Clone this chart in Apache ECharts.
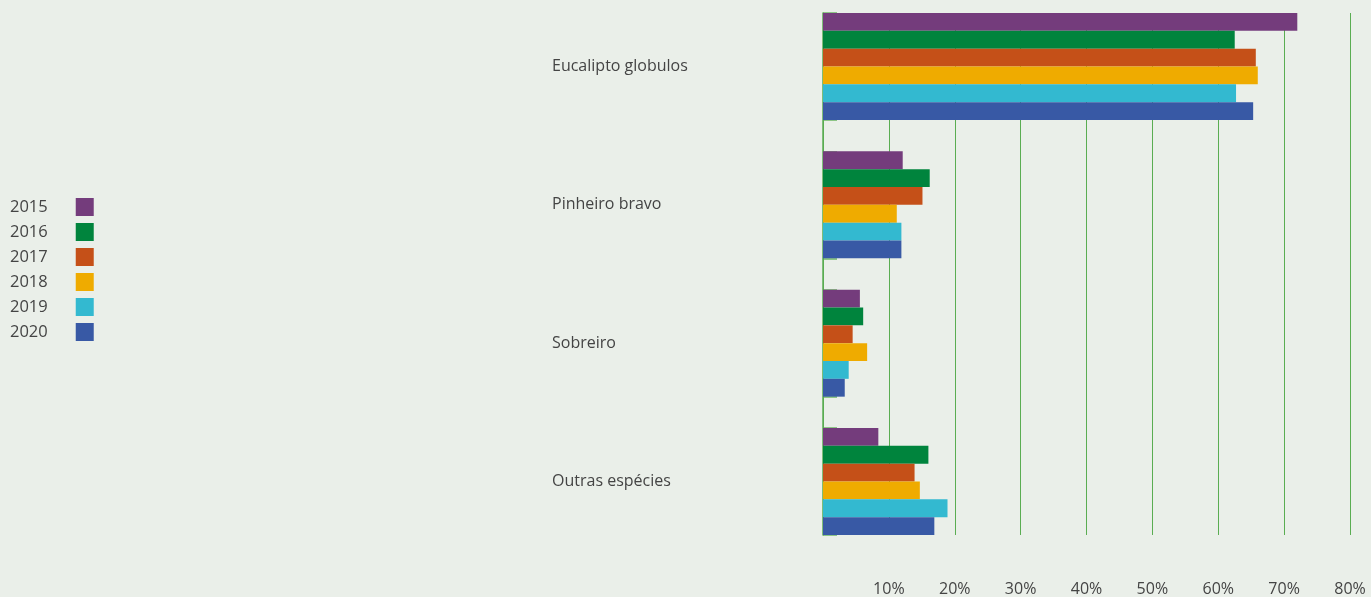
<!DOCTYPE html>
<html>
<head>
<meta charset="utf-8">
<script src="https://cdn.jsdelivr.net/npm/echarts@6/dist/echarts.min.js"></script>
<style>
  html, body { margin: 0; padding: 0; background: #eaefe9; }
  #chart { width: 1371px; height: 597px; }
</style>
</head>
<body>
<div id="chart"></div>
<script>
// Species shown, top to bottom
const categories = ['Eucalipto globulos', 'Pinheiro bravo', 'Sobreiro', 'Outras espécies'];
const years = ['2015', '2016', '2017', '2018', '2019', '2020'];
const yearColors = ['#743c7c', '#00843d', '#c55018', '#efab00', '#33b9d0', '#3859a5'];

// Share (%) per species, one array per year
const v2015 = [72.0, 12.1, 5.6, 8.4];
const v2016 = [62.5, 16.2, 6.1, 16.0];
const v2017 = [65.7, 15.1, 4.5, 13.9];
const v2018 = [66.0, 11.2, 6.7, 14.7];
const v2019 = [62.7, 11.9, 3.9, 18.9];
const v2020 = [65.3, 11.9, 3.3, 16.9];
const valuesByYear = [v2015, v2016, v2017, v2018, v2019, v2020];

// Value-axis range and tick step
const axisMin = 0;
const axisMax = 80;
const axisStep = 10;

const green = '#5aad52';
const textColor = '#444';
const font = 'Open Sans';

const plotLeft = 823;
const plotWidth = 527;
const groupTop = 13;
const groupHeight = 107;
const groupPitch = 138.33;

// Outer grid: split lines, left axis line and percentage labels
const grids = [{ left: plotLeft, width: plotWidth, top: groupTop, height: groupPitch * 3 + groupHeight }];
const xAxes = [{
  gridIndex: 0, type: 'value', min: axisMin, max: axisMax, interval: axisStep,
  axisLine: { show: false }, axisTick: { show: false },
  splitLine: { show: true, lineStyle: { color: green, width: 1 } },
  axisLabel: {
    showMinLabel: false, margin: 46, color: textColor, fontFamily: font, fontSize: 16,
    formatter: v => v + '%'
  }
}];
const yAxes = [{
  gridIndex: 0, type: 'value', min: 0, max: 1,
  axisLine: { show: true, lineStyle: { color: green, width: 1.5 } },
  axisTick: { show: false }, axisLabel: { show: false }, splitLine: { show: false }
}];

// One small grid per species holding its six yearly bars
categories.forEach((cat, i) => {
  grids.push({ left: plotLeft, width: plotWidth, top: groupTop + i * groupPitch, height: groupHeight });
  xAxes.push({ gridIndex: i + 1, type: 'value', min: axisMin, max: axisMax, show: false });
  yAxes.push({
    gridIndex: i + 1, type: 'category', data: [cat], inverse: true,
    axisLine: { show: false },
    axisTick: { show: true, inside: true, length: 14, lineStyle: { color: 'rgba(90,173,82,0.65)', width: 2 } },
    axisLabel: { align: 'left', margin: 271, color: textColor, fontFamily: font, fontSize: 16, padding: [2, 0, 0, 0] },
    splitLine: { show: false }
  });
});

const series = [];
years.forEach((yr, k) => {
  categories.forEach((cat, i) => {
    series.push({
      name: yr, type: 'bar', xAxisIndex: i + 1, yAxisIndex: i + 1,
      data: [valuesByYear[k][i]],
      barGap: 0, barCategoryGap: 0,
      itemStyle: { color: yearColors[k] },
      silent: true
    });
  });
});

const chart = echarts.init(document.getElementById('chart'), null, { renderer: 'canvas' });
chart.setOption({
  backgroundColor: '#eaefe9',
  animation: false,
  color: yearColors,
  legend: {
    orient: 'vertical', left: 10, top: 198, padding: 0,
    align: 'right', itemWidth: 18, itemHeight: 18, itemGap: 7,
    icon: 'rect',
    data: years,
    textStyle: { color: textColor, fontFamily: font, fontSize: 16.5, padding: [7, 23, 0, 0] }
  },
  grid: grids,
  xAxis: xAxes,
  yAxis: yAxes,
  series: series
});
</script>
</body>
</html>
